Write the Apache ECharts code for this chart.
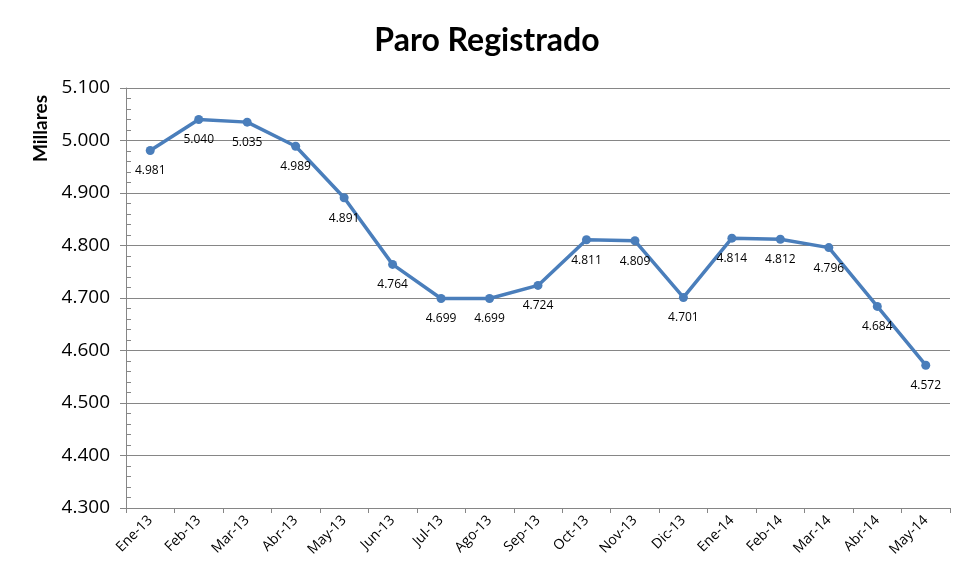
<!DOCTYPE html>
<html>
<head>
<meta charset="utf-8">
<script src="https://cdn.jsdelivr.net/npm/echarts@6/dist/echarts.min.js"></script>
<style>
  html, body { margin: 0; padding: 0; background: #fff; }
  #chart { width: 974px; height: 585px; }
</style>
</head>
<body>
<div id="chart"></div>
<script>
// Meses (categorías del eje X)
const meses = ['Ene-13', 'Feb-13', 'Mar-13', 'Abr-13', 'May-13', 'Jun-13', 'Jul-13', 'Ago-13', 'Sep-13',
               'Oct-13', 'Nov-13', 'Dic-13', 'Ene-14', 'Feb-14', 'Mar-14', 'Abr-14', 'May-14'];
// Paro registrado, en millares
const paro = [4.981, 5.040, 5.035, 4.989, 4.891, 4.764, 4.699, 4.699, 4.724,
              4.811, 4.809, 4.701, 4.814, 4.812, 4.796, 4.684, 4.572];

const chart = echarts.init(document.getElementById('chart'));

const fmt = v => v.toFixed(3);

chart.setOption({
    animation: false,
    title: {
        text: 'Paro Registrado',
        left: 'center',
        top: 20,
        textStyle: { fontFamily: 'Lato', fontWeight: 'bold', fontSize: 32, color: '#000' }
    },
    grid: { left: 126, right: 24, top: 88, bottom: 77 },
    xAxis: {
        type: 'category',
        data: meses,
        boundaryGap: true,
        axisLine: { lineStyle: { color: '#868686', width: 1 } },
        axisTick: { show: true, length: 5, lineStyle: { color: '#868686' } },
        axisLabel: {
            rotate: 45,
            interval: 0,
            fontFamily: 'Open Sans',
            fontSize: 14,
            color: '#000',
            margin: 10
        },
        splitLine: { show: false }
    },
    yAxis: {
        type: 'value',
        name: 'Millares',
        nameLocation: 'end',
        nameRotate: 90,
        nameGap: 0,
        nameTextStyle: {
            fontFamily: 'Lato', fontWeight: 'bold', fontSize: 19, color: '#000',
            align: 'right', verticalAlign: 'bottom', padding: [0, 7, 76, 0]
        },
        min: 4.3,
        max: 5.1,
        interval: 0.1,
        axisLine: { show: true, lineStyle: { color: '#868686' } },
        axisTick: { show: true, length: 6, lineStyle: { color: '#868686' } },
        minorTick: { show: true, splitNumber: 5, length: -5, lineStyle: { color: '#868686' } },
        axisLabel: {
            formatter: fmt,
            fontFamily: 'Open Sans',
            fontSize: 19,
            color: '#000',
            margin: 16
        },
        splitLine: { lineStyle: { color: '#868686', width: 1 } }
    },
    series: [{
        type: 'line',
        data: paro,
        symbol: 'circle',
        symbolSize: 9,
        lineStyle: { color: '#4A7EBB', width: 3.5 },
        itemStyle: { color: '#4A7EBB' },
        label: {
            show: true,
            position: 'bottom',
            distance: 10,
            formatter: p => fmt(p.value),
            fontFamily: 'Open Sans',
            fontSize: 12,
            color: '#000'
        }
    }]
});
</script>
</body>
</html>
